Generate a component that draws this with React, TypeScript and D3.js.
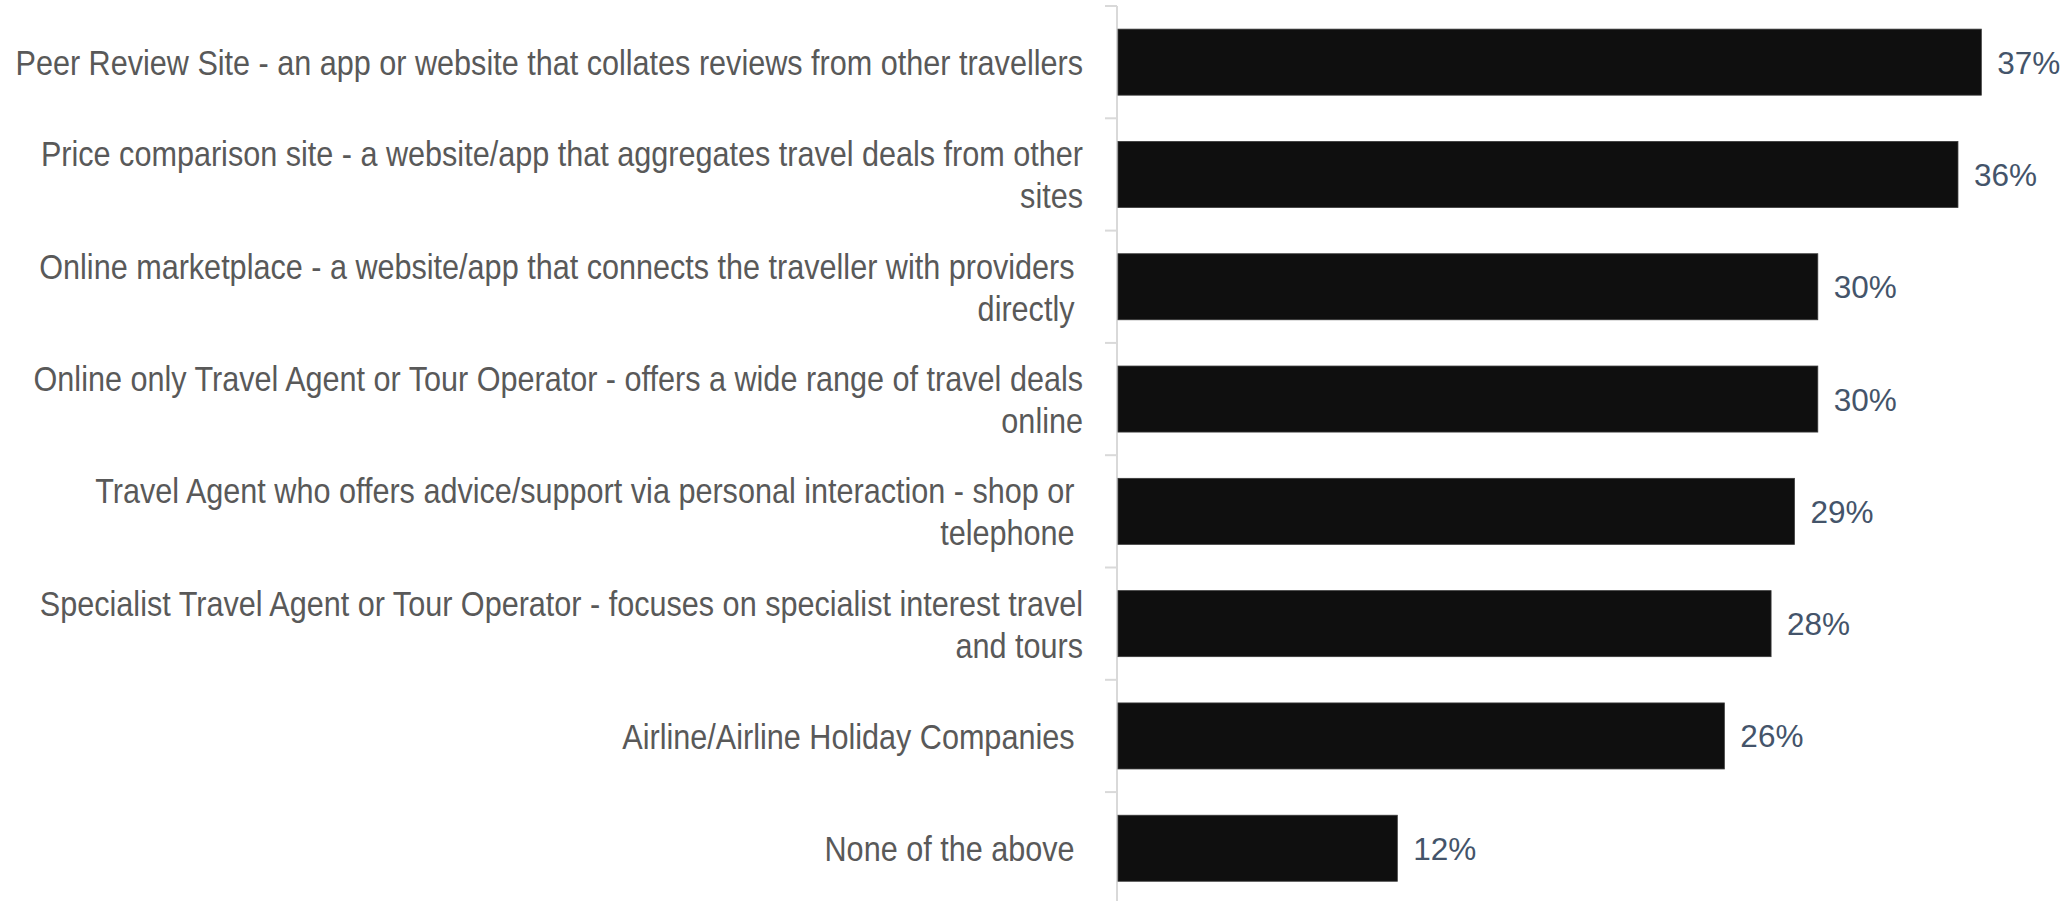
import React from "react";
import * as d3 from "d3";

const categories: string[] = [
  "Peer Review Site - an app or website that collates reviews from other travellers",
  "Price comparison site - a website/app that aggregates travel deals from other\nsites",
  "Online marketplace - a website/app that connects the traveller with providers \ndirectly ",
  "Online only Travel Agent or Tour Operator - offers a wide range of travel deals\nonline",
  "Travel Agent who offers advice/support via personal interaction - shop or \ntelephone ",
  "Specialist Travel Agent or Tour Operator - focuses on specialist interest travel\nand tours",
  "Airline/Airline Holiday Companies ",
  "None of the above ",
];
const values: number[] = [37, 36, 30, 30, 29, 28, 26, 12];
const valueLabels: string[] = ["37%", "36%", "30%", "30%", "29%", "28%", "26%", "12%"];

const W = 2070;
const H = 901;
const SX = 0.85;

export default function App() {
  const x = d3.scaleLinear().domain([0, 40]).range([1117, 1117 + 934.4]);
  const top = 6;
  const bottom = 6 + 8 * 112.3;
  const y = d3
    .scaleBand<string>()
    .domain(categories)
    .range([top, bottom])
    .paddingInner(0.412)
    .paddingOuter(0.206);
  const step = y.step();
  const bw = y.bandwidth();
  const x0 = x(0);
  const boundaries = d3.range(categories.length + 1).map((i) => top + i * step);

  return (
    <svg
      width={W}
      height={H}
      style={{ position: "absolute", left: 0, top: 0, background: "#fff" }}
    >
      {/* axis */}
      <line x1={x0} x2={x0} y1={top} y2={H} stroke="#d9d9d9" strokeWidth={2} />
      {boundaries.map((b, i) => (
        <line key={"t" + i} x1={x0 - 12} x2={x0} y1={b} y2={b} stroke="#d9d9d9" strokeWidth={2} />
      ))}
      {/* bars */}
      {categories.map((c, i) => (
        <rect
          key={"b" + i}
          x={x0 + 1}
          y={y(c)!}
          width={x(values[i]) - x0 - 1}
          height={bw}
          fill="#0f0f0f"
          stroke="#3a3a3a"
          strokeWidth={0.8}
        />
      ))}
      {/* value labels */}
      {categories.map((c, i) => (
        <text
          key={"v" + i}
          x={x(values[i]) + 16}
          y={y(c)! + bw / 2 + 11.5}
          fill="#44546a"
          fontFamily="'Liberation Sans', Arial, sans-serif"
          fontSize={31.5}
        >
          {valueLabels[i]}
        </text>
      ))}
      {/* category labels */}
      <g transform={`scale(${SX},1)`}>
        {categories.map((c, i) => {
          const lines = c.split("\n");
          const lh = 42;
          const cy = y(c)! + bw / 2;
          const first = cy - ((lines.length - 1) * lh) / 2 + 13;
          return (
            <text
              key={"c" + i}
              textAnchor="end"
              fill="#595959"
              fontFamily="'Liberation Sans', Arial, sans-serif"
              fontSize={36}
              style={{ whiteSpace: "pre" }}
            >
              {lines.map((l, j) => (
                <tspan key={j} x={1083 / SX} y={first + j * lh} style={{ whiteSpace: "pre" }}>
                  {l}
                </tspan>
              ))}
            </text>
          );
        })}
      </g>
    </svg>
  );
}
